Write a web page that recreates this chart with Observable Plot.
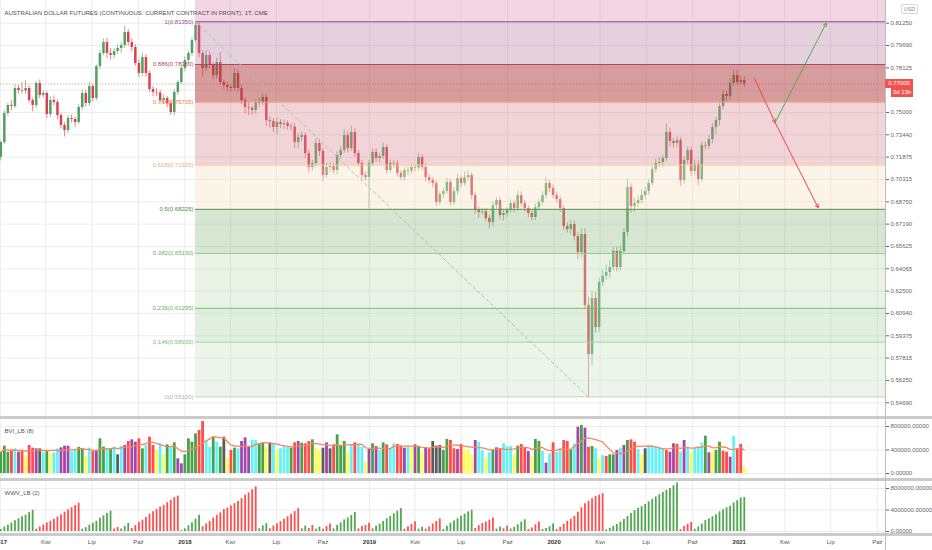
<!DOCTYPE html>
<html><head><meta charset="utf-8">
<script src="https://cdn.jsdelivr.net/npm/d3@7"></script>
<script src="https://cdn.jsdelivr.net/npm/@observablehq/plot@0.6"></script>
<style>
body{margin:0;background:#fff}
#wrap{position:relative;width:932px;height:550px;overflow:hidden;font-family:"Liberation Sans",Arial,sans-serif;background:#fff}
#wrap svg{display:block}
.ov{position:absolute;box-sizing:border-box}
</style></head><body><div id="wrap"></div>
<script>
// ---------- DATA ----------
const title = "AUSTRALIAN DOLLAR FUTURES (CONTINUOUS: CURRENT CONTRACT IN FRONT), 1T, CME";
const firstWeek = "2017-01-02";
const firstOpen = 0.7187;
const closes = [
.7290,.7493,.7549,.7542,.7668,.7654,.7650,.7668,.7584,.7549,
.7703,.7619,.7633,.7486,.7584,.7570,.7479,.7409,.7374,.7458,
.7451,.7430,.7535,.7633,.7563,.7682,.7598,.7822,.7913,.7990,
.7913,.7899,.7927,.7948,.7969,.8060,.7990,.7955,.7843,.7773,
.7885,.7773,.7661,.7640,.7636,.7584,.7598,.7563,.7500,.7640,
.7710,.7808,.7864,.7913,.8004,.8109,.7913,.7808,.7899,.7829,
.7759,.7850,.7710,.7689,.7675,.7668,.7773,.7668,.7584,.7535,
.7530,.7514,.7563,.7570,.7605,.7444,.7437,.7395,.7430,.7416,
.7423,.7402,.7398,.7290,.7325,.7339,.7213,.7115,.7143,.7283,
.7227,.7059,.7115,.7122,.7094,.7199,.7234,.7339,.7248,.7360,
.7213,.7143,.7059,.7045,.7143,.7220,.7178,.7192,.7255,.7094,
.7143,.7140,.7073,.7045,.7094,.7090,.7115,.7112,.7185,.7115,
.7045,.7024,.7003,.6870,.6926,.6947,.7010,.6870,.6947,.7038,
.7003,.7045,.7059,.6919,.6814,.6800,.6805,.6758,.6730,.6849,
.6884,.6779,.6793,.6814,.6863,.6828,.6919,.6863,.6828,.6793,
.6765,.6835,.6870,.6919,.7003,.6968,.6919,.6891,.6828,.6702,
.6681,.6716,.6632,.6520,.6646,.6149,.5806,.6198,.5995,.6310,
.6355,.6380,.6415,.6527,.6415,.6527,.6660,.6975,.6842,.6863,
.6884,.6919,.6947,.7003,.7101,.7143,.7150,.7178,.7360,.7297,
.7283,.7304,.7024,.7164,.7234,.7087,.7136,.7031,.7269,.7265,
.7311,.7395,.7444,.7542,.7626,.7612,.7703,.7759,.7710,.7724,.7700];
// wick lengths beyond the body, in pips (0.0001)
const upperWickPips = [
10,20,15,35,25,20,55,55,20,15, 15,25,20,15,25,30,20,15,20,20,
25,15,20,25,20,30,15,10,20,25, 30,35,20,25,20,45,20,25,20,25,
30,20,15,20,25,20,25,15,20,20, 15,20,25,15,20,26,20,20,35,25,
20,30,70,20,25,20,30,20,25,20, 35,20,25,30,25,20,25,20,30,20,
25,20,20,25,30,25,20,25,20,30, 25,20,30,25,20,25,30,40,25,45,
25,20,20,25,20,25,25,20,30,20, 25,20,25,20,20,25,20,20,30,20,
25,20,20,20,20,25,30,20,25,30, 20,40,35,20,20,25,20,25,20,25,
20,20,25,20,25,20,30,25,20,20, 20,25,20,25,40,20,25,20,20,20,
25,30,25,30,40,40,60,50,45,30, 40,50,50,30,30,40,30,60,25,35,
30,40,30,25,25,30,35,25,60,30, 20,25,20,30,25,25,30,25,25,25,
30,25,20,20,30,25,35,40,35,30,25];
const lowerWickPips = [
25,15,20,30,15,25,20,25,20,45, 20,25,20,30,20,25,30,25,45,20,
25,35,15,20,25,20,25,15,20,15, 35,30,25,20,35,20,25,30,20,25,
20,25,20,30,25,20,25,30,20,25, 20,15,20,25,20,15,30,60,20,25,
30,25,20,25,30,25,20,25,30,45, 50,35,25,30,20,40,45,35,50,30,
35,25,30,40,45,30,35,40,25,30, 35,40,20,35,25,30,25,20,30,20,
25,25,30,25,217,20,25,30,20,25, 20,30,25,20,25,30,20,25,20,25,
30,25,30,25,20,30,20,25,20,25, 30,20,25,30,25,40,20,25,45,30,
25,30,40,25,20,30,20,25,25,30, 25,20,25,20,25,30,20,25,25,30,
25,35,30,50,40,30,296,80,40,35, 30,30,45,25,30,25,20,30,45,40,
30,25,30,25,20,25,30,35,20,40, 30,30,40,25,30,35,30,45,20,30,
25,30,50,40,25,35,25,20,25,20,25];
// BVI_LB volume (thousands) and bar colour codes
const volumeK = [
363,465,363,391,420,363,374,295,477,431, 420,420,352,392,335,352,420,437,465,465,
374,392,443,420,295,431,374,374,590,448, 420,420,448,318,465,477,545,573,533,590,
420,477,618,477,392,477,318,488,448,522, 250,165,318,590,533,675,732,885,545,443,
618,533,448,618,261,392,431,420,545,607, 448,562,562,505,522,448,516,505,392,420,
465,448,431,522,545,516,505,545,573,431, 392,431,522,420,488,658,465,545,363,477,
522,488,448,193,409,505,460,392,522,488, 420,505,494,465,431,448,431,488,448,363,
437,420,545,465,477,392,579,562,420,409, 494,392,403,318,562,533,392,278,352,403,
437,420,505,454,460,318,465,494,437,374, 278,579,545,374,176,335,522,363,420,562,
545,403,505,789,817,772,448,460,420,250, 306,289,318,318,392,431,477,562,573,533,
409,318,420,460,465,448,431,420,392,363, 505,494,363,562,431,352,431,437,516,635,
352,363,392,533,380,363,278,630,420,494,108];
const volumeColorCodes =
"GGGRCPRYRR"+"PKCGYCCPPP"+"CCGGYCRPGG"+"CGCKCPRPPR"+"GCRRYCYGCG"+
"PPGGGGRRCC"+"GCGKYRGCPP"+"PCCGGYKCYC"+"CCGRPGRRGY"+"YKPKRGGGYC"+
"RCCYPGPCGR"+"CCRRPCYPGY"+"PRKKKGGRRP"+"RYYYPCCYCG"+"PRCCCYGRRP"+
"YGGCPCRCCR"+"RGCPGPRGCY"+"CRGGPCPGRR"+"CYKCCCCCRP"+"PRCPCYCCCG"+"PYGGRRPCRRY";
const volumePalette = {G:"#48a148", R:"#ff4d4d", C:"#62f3f7", Y:"#ffff4f", P:"#a247aa", K:"#5b5b5b"};
// WWV_LB waves: lengths in bars, alternating up / down starting with up
const waveLengths = [10,13,9,2,3,14,6,16,3,9,2,2,2,3,7,4,9,4,2,5,9,6,2,2,5,4,4,14,21,4,15];
// Fibonacci retracement
const fibRatios = [1,0.886,0.786,0.618,0.5,0.382,0.236,0.146,0];
const fibPrices = [0.81350,0.78360,0.75735,0.71325,0.68225,0.65130,0.61295,0.58935,0.55100];
const fibLineColors = ["#9c4a8c","#b4475a","#f0874f","#f5c096","#5f9450","#8fd085","#6cc46c","#9ad89a","#c9c9c9"];
const fibTextColors = ["#9c4a8c","#b4475a","#f07a45","#f0ac78","#4f8a3e","#66b45b","#5cb85c","#79c279","#b5b5b5"];
const fibZoneFills = ["#dd84ac","#b579a1","#af3b3d","#d78490","#f9e0c0","#8db87e","#bdddb5","#a6d1a1","#c9e2c3"];
const fibZoneOpacity = [0.35,0.35,0.5,0.35,0.35,0.35,0.35,0.35,0.35];
// hand-drawn arrows (date, price)
const arrowFrom = [["2021-01-31",0.7738],["2021-03-13",0.7430],["2021-03-13",0.7430]];
const arrowTo   = [["2021-03-13",0.7430],["2021-06-06",0.6835],["2021-06-22",0.8125]];
const arrowColors = ["#f0434f","#f0434f","#4caf50"];
// axes
const priceTicks = [0.8125,0.7969,0.78125,0.75,0.7344,0.71875,0.70315,0.6875,0.6719,0.65625,0.64065,0.625,0.6094,0.59375,0.57815,0.5625,0.5469];
const priceGrid = priceTicks.concat([0.76565]);
const bviTicks = [0,400000,800000];
const wwvTicks = [0,4000000,8000000];
const xTickDates = ["2017-01-01","2017-04-01","2017-07-01","2017-10-01","2018-01-01","2018-04-01","2018-07-01","2018-10-01",
"2019-01-01","2019-04-01","2019-07-01","2019-10-01","2020-01-01","2020-04-01","2020-07-01","2020-10-01",
"2021-01-01","2021-04-01","2021-07-01","2021-10-01"];
const xTickLabels = ["2017","Kwi","Lip","Paź","2018","Kwi","Lip","Paź","2019","Kwi","Lip","Paź","2020","Kwi","Lip","Paź","2021","Kwi","Lip","Paź"];
const timerText = "3d 13h";

// ---------- BUILD ----------
const FONT = '"Liberation Sans", Arial, sans-serif';
const DAY = 864e5;
const t0 = Date.parse(firstWeek + "T00:00Z");
const weekDate = i => new Date(t0 + i * 7 * DAY);
const candles = closes.map((c, i) => {
  const o = i === 0 ? firstOpen : closes[i - 1];
  const up = c >= o;
  const bodyEnd = Math.abs(c - o) < 0.0003 ? o + (up ? 0.0003 : -0.0003) : c;
  return {date: weekDate(i), open: o, close: c, bodyEnd,
    high: Math.max(o, c) + upperWickPips[i] / 1e4,
    low: Math.min(o, c) - lowerWickPips[i] / 1e4,
    color: up ? "#54a062" : "#d8424f"};
});
const lastClose = closes[closes.length - 1];
const vols = volumeK.map((v, i) => ({date: weekDate(i), vol: v * 1000, color: volumePalette[volumeColorCodes[i]]}));
const wwv = [];
{
  let k = 0;
  waveLengths.forEach((len, w) => {
    let acc = 0;
    for (let j = 0; j < len; j++, k++) {
      acc += vols[k].vol;
      wwv.push({date: vols[k].date, value: acc, color: w % 2 === 0 ? "#4fa84f" : "#ff5050"});
    }
  });
}
const hiC = d3.greatest(candles, d => d.high);
const loC = d3.least(candles, d => d.low);
const fibStart = hiC.date;
const xDomain = [new Date("2017-01-01T10:00Z"), new Date("2021-10-17T05:00Z")];
const xEnd = xDomain[1];
const yDomain = [0.53657, 0.82839];
const levels = fibRatios.map((r, i) => ({price: fibPrices[i], label: `${r}(${fibPrices[i].toFixed(5)})`, color: fibLineColors[i], tcolor: fibTextColors[i]}));
const zones = fibPrices.map((p, i) => ({y1: i === 0 ? yDomain[1] : fibPrices[i - 1], y2: p, fill: fibZoneFills[i], op: fibZoneOpacity[i]}));
const arrows = arrowFrom.map((a, i) => ({x1: new Date(a[0]), y1: a[1], x2: new Date(arrowTo[i][0]), y2: arrowTo[i][1], color: arrowColors[i]}));
const xTicks = xTickDates.map((d, i) => ({date: new Date(d + "T00:00Z"), label: xTickLabels[i], year: /^\d{4}$/.test(xTickLabels[i])}));
const fmt5 = d3.format(".5f");
const style = {fontFamily: FONT, fontSize: "6px", color: "#666", background: "#fff", overflow: "visible"};
const xOpt = {type: "utc", domain: xDomain, range: [0, 885], axis: null};
const gridColor = "#ececec";
const axisOpts = {anchor: "right", tickFormat: fmt5, tickSize: 3, tickPadding: 2, color: "#666", label: null};

const price = Plot.plot({
  width: 932, height: 417, marginLeft: 0, marginRight: 47, marginTop: 0, marginBottom: 0,
  x: xOpt, y: {domain: yDomain, range: [417, 0], axis: null, label: null}, color: {type: "identity"}, style,
  marks: [
    Plot.ruleY(priceGrid, {stroke: gridColor}),
    Plot.ruleX(xTicks, {x: "date", stroke: gridColor}),
    Plot.ruleY([lastClose], {stroke: "#ef5350", strokeOpacity: 0.5, strokeDasharray: "1.5,1.5"}),
    Plot.ruleX(candles, {x: "date", y1: "low", y2: "high", stroke: "color", strokeOpacity: 0.65, strokeWidth: 1}),
    Plot.ruleX(candles, {x: "date", y1: "open", y2: "bodyEnd", stroke: "color", strokeWidth: 2.5}),
    Plot.rect(zones, {x1: () => fibStart, x2: () => xEnd, y1: "y1", y2: "y2", fill: "fill", fillOpacity: "op"}),
    Plot.ruleY(levels, {y: "price", x1: () => fibStart, x2: () => xEnd, stroke: "color", strokeWidth: 1}),
    Plot.line([{d: hiC.date, p: hiC.high}, {d: loC.date, p: loC.low}], {x: "d", y: "p", stroke: "#a9c6a0", strokeDasharray: "3,3", strokeWidth: 1}),
    Plot.text(levels, {x: () => fibStart, y: "price", text: "label", textAnchor: "end", dx: -2, fill: "tcolor"}),
    Plot.arrow(arrows, {x1: "x1", y1: "y1", x2: "x2", y2: "y2", stroke: "color", strokeWidth: 1, headLength: 5}),
    Plot.text([title], {frameAnchor: "top-left", textAnchor: "start", dx: 4, dy: 10, text: d => d, fill: "#4d4d4d"}),
    Plot.axisY(priceTicks, axisOpts)
  ]
});

const bvi = Plot.plot({
  width: 932, height: 62, marginLeft: 0, marginRight: 47, marginTop: 0, marginBottom: 0,
  x: xOpt, y: {domain: [-102128, 953191], range: [62, 0], axis: null, label: null}, color: {type: "identity"}, style,
  marks: [
    Plot.ruleY(bviTicks, {stroke: gridColor}),
    Plot.ruleX(xTicks, {x: "date", stroke: gridColor}),
    Plot.ruleX(vols, {x: "date", y1: 0, y2: "vol", stroke: "color", strokeWidth: 2.8}),
    Plot.lineY(vols, Plot.windowY({k: 8, anchor: "end"}, {x: "date", y: "vol", stroke: "#f5875f", strokeWidth: 1.3})),
    Plot.text(["BVI_LB (8)"], {frameAnchor: "top-left", textAnchor: "start", dx: 4, dy: 11, text: d => d, fill: "#555"}),
    Plot.axisY(bviTicks, axisOpts)
  ]
});

const wwvChart = Plot.plot({
  width: 932, height: 71, marginLeft: 0, marginRight: 47, marginTop: 0, marginBottom: 16,
  x: xOpt, y: {domain: [-558140, 9674419], range: [55, 0], axis: null, label: null}, color: {type: "identity"}, style,
  marks: [
    Plot.ruleY(wwvTicks, {stroke: gridColor}),
    Plot.ruleX(xTicks, {x: "date", y1: -558140, y2: 9674419, stroke: gridColor}),
    Plot.ruleX(wwv, {x: "date", y1: 0, y2: "value", stroke: "color", strokeWidth: 1.8}),
    Plot.text(["WWV_LB (2)"], {frameAnchor: "top-left", textAnchor: "start", dx: 4, dy: 11, text: d => d, fill: "#555"}),
    Plot.axisY(wwvTicks, axisOpts),
    Plot.text(xTicks.filter(d => !d.year), {x: "date", frameAnchor: "bottom", dy: 9, text: "label", fill: "#555"}),
    Plot.text(xTicks.filter(d => d.year), {x: "date", frameAnchor: "bottom", dy: 9, text: "label", fill: "#333", fontWeight: "bold"})
  ]
});

const wrap = document.getElementById("wrap");
wrap.append(price, bvi, wwvChart);

function ov(css, text) {
  const d = document.createElement("div");
  d.className = "ov";
  d.style.cssText = css;
  if (text) d.textContent = text;
  wrap.append(d);
  return d;
}
// pane separators and price-axis border
[416, 478, 533].forEach(t => ov(`left:0;top:${t}px;width:932px;height:3px;background:#cbcbcb`));
ov("left:885px;top:0;width:1px;height:550px;background:#bdbdbd");
// currency badge
ov("left:901px;top:4px;width:17px;height:10px;border:1px solid #d6d6d6;border-radius:2px;font-size:5.5px;line-height:8px;color:#888;text-align:center", "USD");
// last price label
const yp = price.scale("y").apply(lastClose);
ov(`left:885px;top:${yp - 4.3}px;width:28px;height:8.6px;background:#ef5350;color:#fff;font-size:6px;line-height:8.6px;text-align:center`, fmt5(lastClose));
ov(`left:891px;top:${yp + 4.6}px;width:22px;height:9px;background:#ef5350;color:#fff;font-size:6px;line-height:9px;text-align:center`, timerText);
</script></body></html>
